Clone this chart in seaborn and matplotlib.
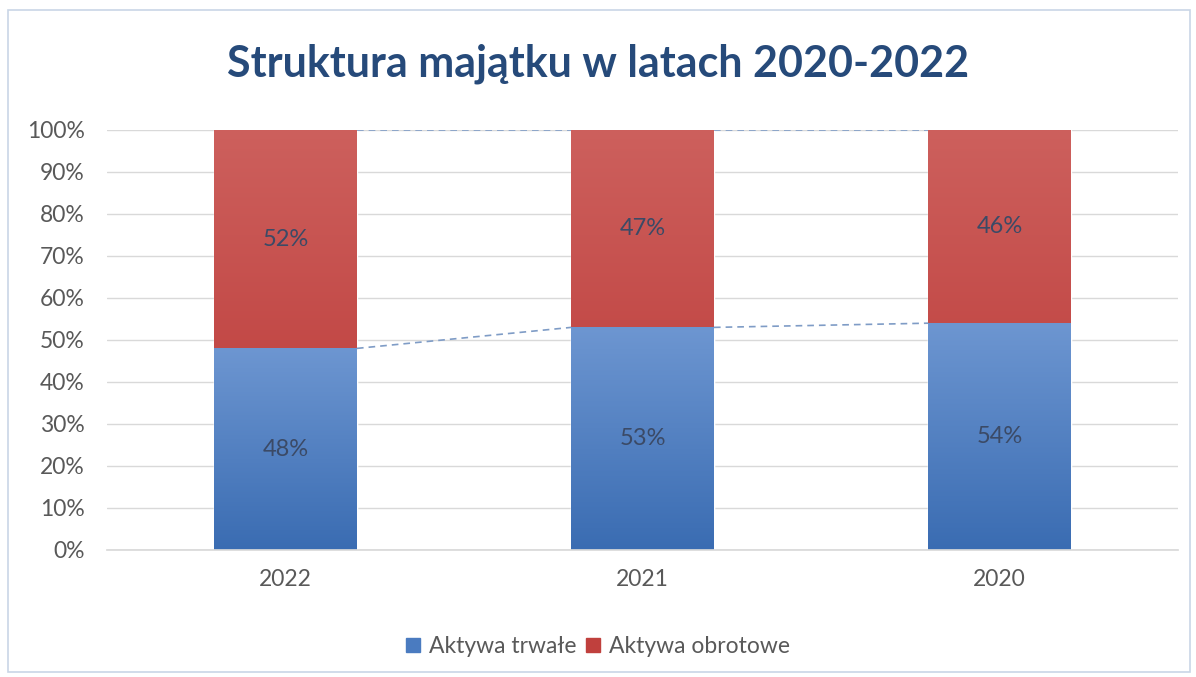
import numpy as np
import pandas as pd
import seaborn as sns
import matplotlib.pyplot as plt
from matplotlib.colors import LinearSegmentedColormap
from matplotlib.patches import Rectangle, Patch

# data
years = ["2022", "2021", "2020"]
aktywa_trwale = [48, 53, 54]
aktywa_obrotowe = [52, 47, 46]

sns.set_theme(style="white")
plt.rcParams["font.family"] = ["Lato", "DejaVu Sans"]

df = pd.DataFrame({"rok": years, "trwale": aktywa_trwale, "obrotowe": aktywa_obrotowe})
df["suma"] = df["trwale"] + df["obrotowe"]

fig = plt.figure(figsize=(11.96, 6.77), dpi=100)
ax = fig.add_axes([0.0895, 0.1876, 0.8955, 0.6204])

# stacked bars: full height in red, bottom part in blue
sns.barplot(data=df, x="rok", y="suma", color="#c0423f", width=0.4, ax=ax,
            saturation=1, order=years)
sns.barplot(data=df, x="rok", y="trwale", color="#4f7fc4", width=0.4, ax=ax,
            saturation=1, order=years)

# vertical gradients on the bars
grad = np.linspace(0, 1, 256).reshape(-1, 1)
red_cmap = LinearSegmentedColormap.from_list("r", ["#b93432", "#cd605d"])
blue_cmap = LinearSegmentedColormap.from_list("b", ["#3a6cb2", "#6d96d1"])
n = len(years)
for i, p in enumerate(ax.patches):
    cmap = red_cmap if i < n else blue_cmap
    x0, y0 = p.get_x(), p.get_y()
    w, h = p.get_width(), p.get_height()
    im = ax.imshow(grad, cmap=cmap, origin="lower", aspect="auto",
                   extent=[x0, x0 + w, y0, y0 + h], zorder=p.get_zorder() + 0.1)
    im.set_clip_path(p)

# series lines between bars
bw = 0.4
for i in range(n - 1):
    ax.plot([i + bw / 2, i + 1 - bw / 2], [aktywa_trwale[i], aktywa_trwale[i + 1]],
            ls=(0, (4, 3)), color="#7f9cc6", lw=1.2, zorder=3)
    ax.plot([i + bw / 2, i + 1 - bw / 2], [df["suma"][i], df["suma"][i + 1]],
            ls=(0, (4, 3)), color="#7f9cc6", lw=1.2, zorder=3)

# data labels
for i in range(n):
    ax.text(i, aktywa_trwale[i] / 2, f"{aktywa_trwale[i]}%", ha="center", va="center",
            fontsize=17, color="#3b4a66", zorder=5)
    ax.text(i, aktywa_trwale[i] + aktywa_obrotowe[i] / 2, f"{aktywa_obrotowe[i]}%",
            ha="center", va="center", fontsize=17, color="#3b4a66", zorder=5)

ax.set_xlim(-0.5, n - 0.5)
ax.set_ylim(0, 100)
ax.set_yticks(range(0, 101, 10))
ax.set_yticklabels([f"{v}%" for v in range(0, 101, 10)])
ax.yaxis.grid(True, color="#d9d9d9", lw=1)
ax.set_axisbelow(True)
ax.set_xlabel("")
ax.set_ylabel("")
ax.tick_params(axis="both", labelsize=16.5, colors="#595959", length=0)
ax.tick_params(axis="y", pad=16)
ax.tick_params(axis="x", pad=14)
ax.set_xticks(np.arange(-0.5, n, 1), minor=True)
ax.tick_params(axis="x", which="minor", length=5, color="#d9d9d9", width=1)
for s in ["left", "right", "top"]:
    ax.spines[s].set_visible(False)
ax.spines["bottom"].set_color("#d9d9d9")

fig.text(0.5, 0.906, "Struktura majątku w latach 2020-2022", ha="center", va="center",
         fontsize=31, fontweight="bold", color="#264a7a")

handles = [Patch(color="#4a7bc0", label="Aktywa trwałe"),
           Patch(color="#c0403d", label="Aktywa obrotowe")]
leg = fig.legend(handles=handles, loc="center", bbox_to_anchor=(0.5, 0.045), ncol=2,
                 frameon=False, fontsize=16.5, handlelength=0.6, handleheight=0.6,
                 handletextpad=0.4, columnspacing=0.4)
for t in leg.get_texts():
    t.set_color("#595959")

fig.patches.append(Rectangle((0.007, 0.007), 0.988, 0.978, transform=fig.transFigure,
                             fill=False, edgecolor="#c9d6e6", lw=1.2))

fig.savefig("out.png", dpi=100)
plt.close()
